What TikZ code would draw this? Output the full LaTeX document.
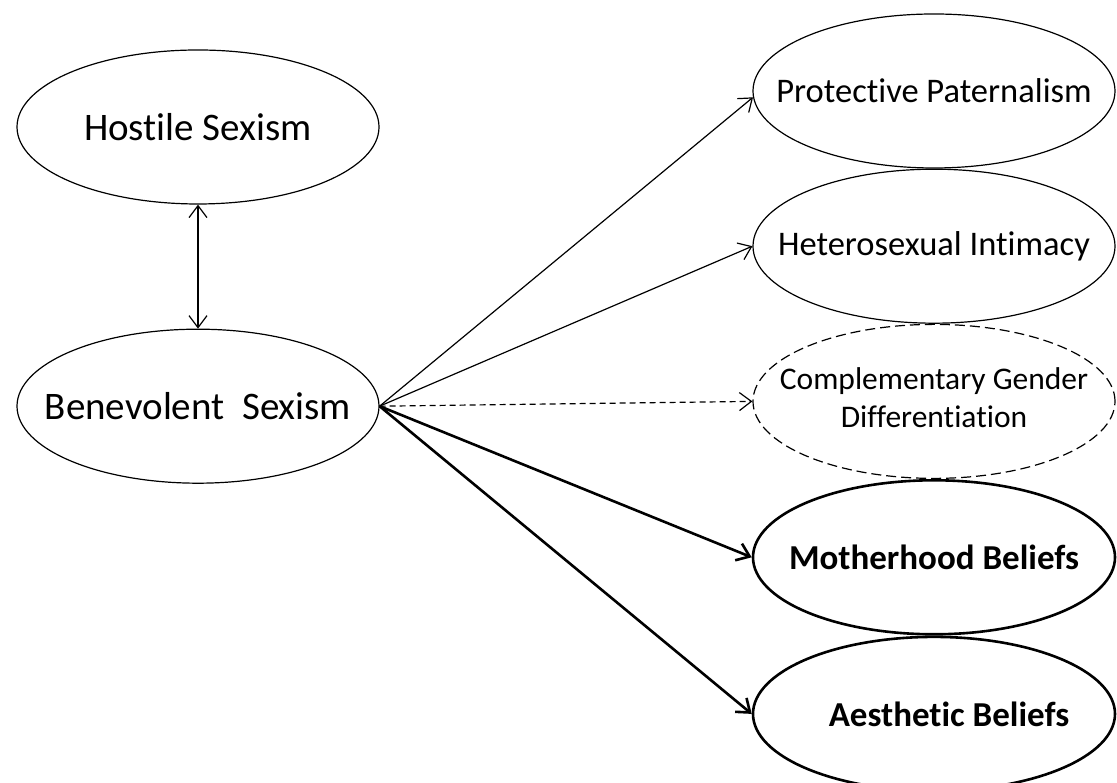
\documentclass[tikz,border=0pt]{standalone}
\usepackage{fontspec}
\setmainfont{Carlito}[Ligatures={NoCommon,NoRequired,NoContextual}]
\usetikzlibrary{positioning,shapes.geometric,arrows.meta}
\newcommand{\ovtext}[1]{\makebox[0pt]{#1}}
\newcommand{\lfont}{\fontsize{39}{46}\selectfont}
\newcommand{\rfont}{\fontsize{34.5}{40}\selectfont}
\newcommand{\sfont}{\fontsize{31.5}{38}\selectfont}
\tikzset{
 e/.style
  = {ellipse, draw, line width=1.2pt, inner sep=0pt,
     minimum width=362pt, minimum height=154pt},
 ed/.style
  = {e, dashed, dash pattern=on 10pt off 5pt, font=\sfont},
 eb/.style
  = {e, line width=2.6pt, font=\fontsize{35}{40}\selectfont\bfseries},
 l/.style
  = {draw, -{Straight Barb[length=12pt,width=18pt]}, line width=1.2pt},
 lr/.style
  = {draw, {Straight Barb[length=12pt,width=18pt]}-{Straight Barb[length=12pt,width=18pt]}, line width=1.2pt},
 ld/.style
  = {l, dash pattern=on 6pt off 4pt},
 lt/.style
  = {l, line width=2.6pt}
}
\begin{document}
\begin{tikzpicture}[x=1pt,y=1pt]
    \useasboundingbox (0,0) rectangle (1117,783);
    \node [e, font=\lfont] (hostile) at (198,656) {\ovtext{Hostile Sexism}};
    \node [e, font=\lfont, below = 124pt of hostile] (benevolent) {\ovtext{Benevolent\ \ Sexism}};
    \node [e, font=\rfont] (protective) at (934,692) {\ovtext{Protective Paternalism}};
    \node [e, font=\rfont, below = 0pt of protective] (intimacy) {\ovtext{Heterosexual Intimacy}};
    \node [ed, below = 0pt of intimacy] (gender) {\ovtext{\begin{tabular}{c}Complementary Gender\\ Differentiation\end{tabular}}};
    \node [eb, below = 0pt of gender] (motherhood) {\ovtext{Motherhood Beliefs}};
    \node [eb, below = 0pt of motherhood] (aesthetic) {\ovtext{\hspace*{30pt}Aesthetic Beliefs}};

    \path [lr] (hostile) -- (benevolent);
    \path [l] (benevolent.east) -- (protective.182);
    \path [l] (benevolent.east) -- (intimacy.west);
    \path [ld] (benevolent.east) -- (gender.west);
    \path [lt] (benevolent.east) -- (motherhood.west);
    \path [lt] (benevolent.east) -- (aesthetic.west);
\end{tikzpicture}
\end{document}
